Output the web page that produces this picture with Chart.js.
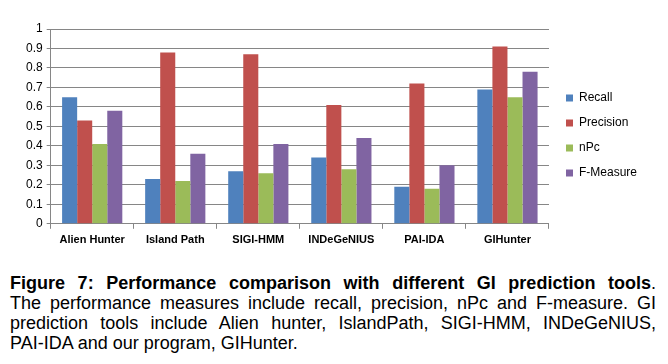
<!DOCTYPE html>
<html>
<head>
<meta charset="utf-8">
<script src="https://cdn.jsdelivr.net/npm/chart.js@4.4.0/dist/chart.umd.min.js"></script>
<style>
  html, body { margin: 0; padding: 0; background: #fff; }
  #wrap { position: relative; width: 668px; height: 252px; }
  .caption {
    position: absolute; left: 10px; top: 273px; width: 646px;
    font-family: "Liberation Sans", Arial, sans-serif;
    font-size: 18px; line-height: 20px; color: #000;
  }
  .caption div { white-space: nowrap; }
  .caption div.just { text-align: justify; text-align-last: justify; }
</style>
</head>
<body>
<div id="wrap"><canvas id="giChart"></canvas></div>
<div class="caption">
  <div class="fit"><span><b>Figure 7: Performance comparison with different GI prediction tools</b>.</span></div>
  <div class="fit"><span>The performance measures include recall, precision, nPc and F-measure. GI</span></div>
  <div class="fit"><span>prediction tools include Alien hunter, IslandPath, SIGI-HMM, INDeGeNIUS,</span></div>
  <div><span>PAI-IDA and our program, GIHunter.</span></div>
</div>
<script>
const toolNames = ['Alien Hunter', 'Island Path', 'SIGI-HMM', 'INDeGeNIUS', 'PAI-IDA', 'GIHunter'];
const recall    = [0.65, 0.23, 0.27, 0.34, 0.19, 0.69];
const precision = [0.53, 0.88, 0.87, 0.61, 0.72, 0.91];
const nPc       = [0.41, 0.22, 0.26, 0.28, 0.18, 0.65];
const fMeasure  = [0.58, 0.36, 0.41, 0.44, 0.30, 0.78];

// squeeze caption lines that are too long, then justify them
document.querySelectorAll('.caption .fit').forEach((line) => {
  const span = line.querySelector('span');
  const w = span.getBoundingClientRect().width;
  if (w > 646) line.style.letterSpacing = ((646 - w) / span.textContent.length).toFixed(2) + 'px';
  line.classList.add('just');
});

const ctxGi = document.getElementById('giChart').getContext('2d');

// widen the legend box a little and nudge where it is drawn
const legendGap = {
  id: 'legendGap',
  afterInit(chart) {
    const fitLegend = chart.legend.fit.bind(chart.legend);
    chart.legend.fit = function () {
      fitLegend();
      this.width += 4;
    };
  },
  afterLayout(chart) {
    const lg = chart.legend;
    lg.left += 4; lg.right += 4;
    lg.top -= 5; lg.bottom -= 5;
  },
};

new Chart(ctxGi, {
  type: 'bar',
  data: {
    labels: toolNames,
    datasets: [
      { label: 'Recall', data: recall, backgroundColor: '#4F81BD' },
      { label: 'Precision', data: precision, backgroundColor: '#C0504D' },
      { label: 'nPc', data: nPc, backgroundColor: '#9BBB59' },
      { label: 'F-Measure', data: fMeasure, backgroundColor: '#8064A2' },
    ],
  },
  options: {
    responsive: true,
    maintainAspectRatio: false,
    animation: false,
    datasets: { bar: { categoryPercentage: 0.725, barPercentage: 1.0 } },
    layout: { padding: { top: 29, left: 22, right: 21, bottom: 0 } },
    scales: {
      x: {
        grid: { drawOnChartArea: false, offset: true, tickLength: 5, color: '#868686' },
        border: { color: '#868686' },
        ticks: { color: '#000', font: { family: 'Liberation Sans', size: 11, weight: 'bold' }, padding: 5 },
      },
      y: {
        min: 0,
        max: 1,
        grid: { color: '#868686', tickLength: 4 },
        border: { color: '#868686' },
        ticks: {
          stepSize: 0.1,
          color: '#000',
          font: { family: 'Liberation Sans', size: 12 },
          padding: 4,
          callback: (v) => Math.round(v * 10) / 10,
        },
      },
    },
    plugins: {
      tooltip: { enabled: false },
      legend: {
        position: 'right',
        labels: {
          color: '#000',
          font: { family: 'Liberation Sans', size: 12 },
          boxWidth: 7,
          boxHeight: 7,
          padding: 13,
        },
      },
    },
  },
  plugins: [legendGap],
});
</script>
</body>
</html>
